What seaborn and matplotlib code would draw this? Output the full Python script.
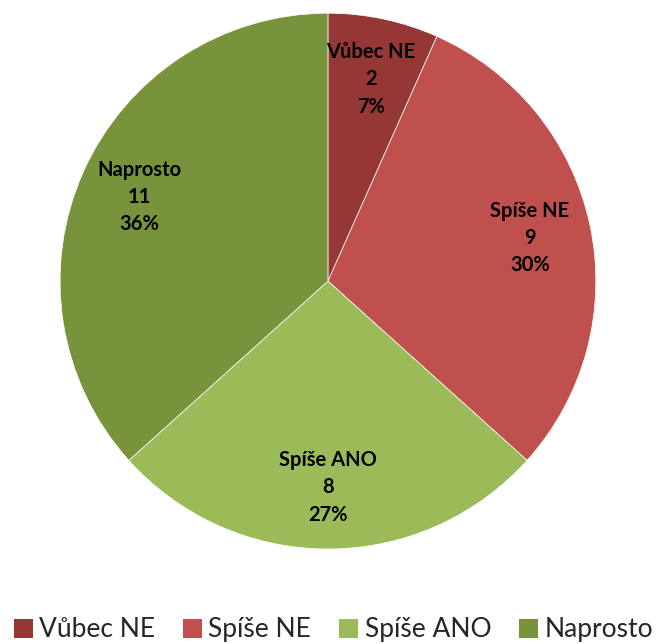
import numpy as np
import matplotlib
matplotlib.use("Agg")
import matplotlib.pyplot as plt
import seaborn as sns
from matplotlib.patches import Patch

sns.set_theme(style="white")
plt.rcParams['font.family'] = ['Lato', 'DejaVu Sans']

# data
categories = ["Vůbec NE", "Spíše NE", "Spíše ANO", "Naprosto"]
counts = [2, 9, 8, 11]
percent_labels = ["7%", "30%", "27%", "36%"]
colors = ["#953735", "#C0504D", "#9BBB59", "#77933C"]

fig = plt.figure(figsize=(6.6, 6.44), dpi=100)
ax = fig.add_axes([0.0909, 0.1475, 0.812, 0.832])

labels = [f"{c}\n{n}\n{p}" for c, n, p in zip(categories, counts, percent_labels)]
wedges, texts = ax.pie(counts, labels=labels, colors=colors, startangle=90,
                       counterclock=False, labeldistance=0.77, radius=1,
                       wedgeprops=dict(edgecolor="white", linewidth=0.5),
                       textprops=dict(fontsize=14.5, fontweight="bold", color="black",
                                      linespacing=1.45))
for t in texts:
    t.set_ha("center")
    t.set_va("center")
ax.set_xlim(-1, 1)
ax.set_ylim(-1, 1)
ax.set_aspect("equal")
ax.axis("off")

handles = [Patch(facecolor=c, edgecolor="none") for c in colors]
fig.legend(handles, categories, loc="center", bbox_to_anchor=(0.505, 0.022), ncol=4,
           frameon=False, fontsize=19, handlelength=0.72, handleheight=0.72,
           handletextpad=0.25, columnspacing=1.05, borderaxespad=0)

fig.savefig("out.png", dpi=100)
